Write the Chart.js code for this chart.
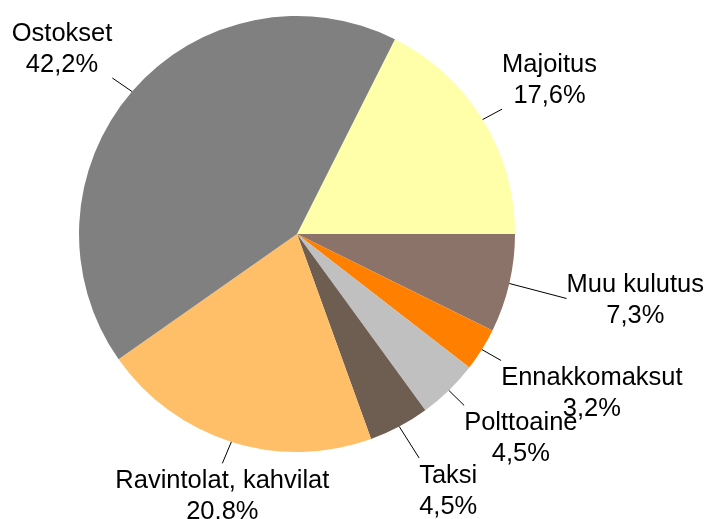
<!DOCTYPE html>
<html>
<head>
<meta charset="utf-8">
<script src="https://cdn.jsdelivr.net/npm/chart.js@4.4.1/dist/chart.umd.min.js"></script>
<style>
  html, body { margin: 0; padding: 0; background: #fff; }
  #wrap { width: 707px; height: 519px; position: relative; }
</style>
</head>
<body>
<div id="wrap"><canvas id="chartKulutus"></canvas></div>
<script>
// Kulutus menoerittäin (%)
const kategoriat = ['Majoitus', 'Muu kulutus', 'Ennakkomaksut', 'Polttoaine', 'Taksi', 'Ravintolat, kahvilat', 'Ostokset'];
const osuudet = [17.6, 7.3, 3.2, 4.5, 4.5, 20.8, 42.2];
const varit = ['#FFFFAA', '#8C7369', '#FF8000', '#C0C0C0', '#6E5E52', '#FFBF69', '#808080'];

// label box centre offset from the slice edge point (px)
const labelSiirto = [[67, -41.5], [126, 15], [110, 42], [72, 46], [49, 62.5], [-9, 52.5], [-70, -44.5]];

const FONTTI = '25.5px "Liberation Sans", Arial, sans-serif';
const RIVIVALI = 31;

const labelPlugin = {
    id: 'kulutusLabels',
    afterDatasetsDraw(chart) {
        const ctx = chart.ctx;
        const meta = chart.getDatasetMeta(0);
        ctx.save();
        ctx.font = FONTTI;
        ctx.fillStyle = '#000';
        ctx.strokeStyle = '#000';
        ctx.lineWidth = 1;
        meta.data.forEach((arc, i) => {
            const mid = (arc.startAngle + arc.endAngle) / 2;
            const ex = arc.x + Math.cos(mid) * arc.outerRadius;
            const ey = arc.y + Math.sin(mid) * arc.outerRadius;
            const cx = ex + labelSiirto[i][0];
            const cy = ey + labelSiirto[i][1];
            const rivit = [kategoriat[i], osuudet[i].toFixed(1).replace('.', ',') + '%'];
            const lev = Math.max(...rivit.map(r => ctx.measureText(r).width));
            const x0 = cx - lev / 2, x1 = cx + lev / 2;
            const y0 = cy - RIVIVALI, y1 = cy + RIVIVALI;
            // leader end point on the label box
            let lx, ly;
            if (ex >= x0 && ex <= x1) {
                lx = cx; ly = ey < y0 ? y0 : y1;
            } else if (ey >= y0 && ey <= y1) {
                ly = cy; lx = ex < x0 ? x0 : x1;
            } else {
                lx = ex < x0 ? x0 : x1;
                ly = ey < y0 ? y0 : y1;
            }
            ctx.beginPath();
            ctx.moveTo(ex, ey);
            ctx.lineTo(lx, ly);
            ctx.stroke();
            ctx.textAlign = 'center';
            ctx.textBaseline = 'alphabetic';
            ctx.fillText(rivit[0], cx, cy - 6.5);
            ctx.fillText(rivit[1], cx, cy - 6.5 + RIVIVALI);
        });
        ctx.restore();
    }
};

new Chart(document.getElementById('chartKulutus'), {
    type: 'pie',
    data: {
        labels: kategoriat,
        datasets: [{
            data: osuudet,
            backgroundColor: varit,
            borderWidth: 0
        }]
    },
    options: {
        responsive: true,
        maintainAspectRatio: false,
        animation: false,
        rotation: 26.7,
        layout: { padding: { left: 79, right: 192, top: 16, bottom: 67 } },
        plugins: {
            legend: { display: false },
            tooltip: { enabled: false }
        }
    },
    plugins: [labelPlugin]
});
</script>
</body>
</html>
